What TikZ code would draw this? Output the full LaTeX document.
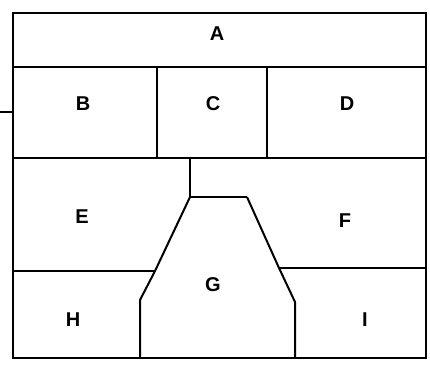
\documentclass[tikz,border=0pt]{standalone}
\usepackage{fontspec}
\setmainfont{Liberation Sans}
\begin{document}
\begin{tikzpicture}[x=1pt,y=-1pt,line width=2pt,
  lbl/.style={font=\fontsize{20}{20}\selectfont\bfseries, inner sep=0pt}]
\useasboundingbox (0,0) rectangle (430,364);
% outer box
\draw (13,13) rectangle (426,358);
% row lines
\draw (13,67) -- (426,67);
\draw (13,158) -- (426,158);
\draw (157,67) -- (157,158);
\draw (267,67) -- (267,158);
% stub on the left
\draw (0,112) -- (13,112);
% G region
\draw (190,158) -- (190,197) -- (247,197);
\draw (190,197) -- (155,271) -- (140,300) -- (140,358);
\draw (247,197) -- (279,268) -- (295,302) -- (295,358);
% E/H and F/I dividers
\draw (13,271) -- (155,271);
\draw (279,268) -- (426,268);
% labels
\node[lbl] (A) at (217,34) {A};
\node[lbl] (B) at (83,104) {B};
\node[lbl] (C) at (213,104) {C};
\node[lbl] (D) at (347,104) {D};
\node[lbl] (E) at (82,217) {E};
\node[lbl] (F) at (345,221) {F};
\node[lbl] (G) at (213,285) {G};
\node[lbl] (H) at (73,320) {H};
\node[lbl] (I) at (365,320) {I};
\end{tikzpicture}
\end{document}
